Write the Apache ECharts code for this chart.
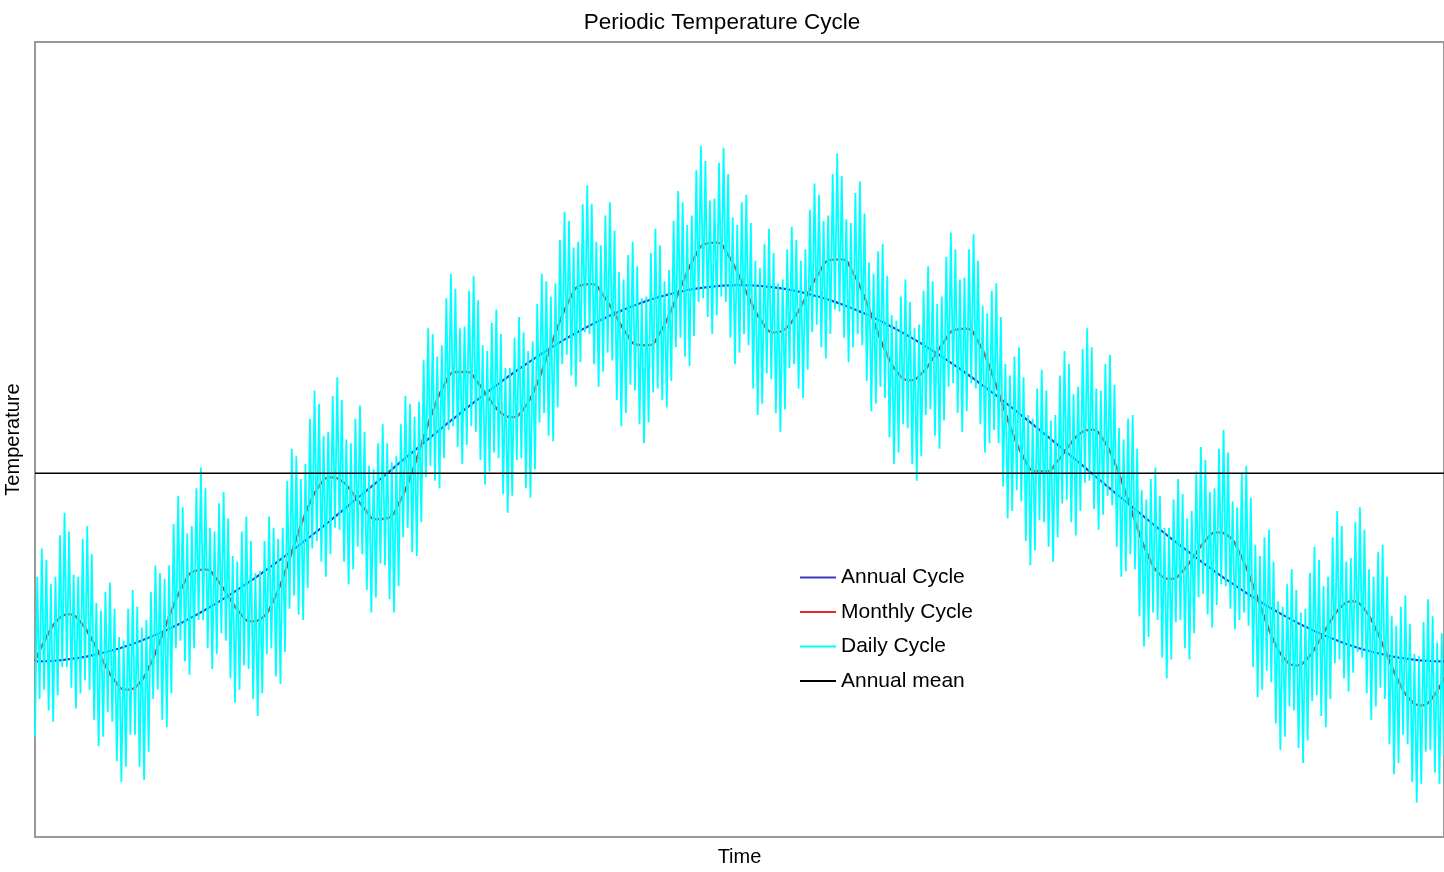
<!DOCTYPE html>
<html>
<head>
<meta charset="utf-8">
<script src="https://cdn.jsdelivr.net/npm/echarts/dist/echarts.min.js"></script>
<style>html,body{margin:0;padding:0;background:#fff}#c{width:1444px;height:872px}</style>
</head>
<body>
<div id="c"></div>
<script>
const TITLE = 'Periodic Temperature Cycle';
const X_NAME = 'Time';
const Y_NAME = 'Temperature';
const YEAR_DAYS = 365;
const ANNUAL_MEAN = 15;
const seriesNames = ['Annual Cycle', 'Monthly Cycle', 'Daily Cycle', 'Annual mean'];

// Annual cycle, sampled evenly across the year
const annualCycle = [5.00,5.01,5.05,5.12,5.20,5.32,5.46,5.62,5.81,6.02,6.26,6.51,6.79,7.09,7.41,7.75,8.11,8.49,8.88,9.29,9.71,10.15,10.60,11.06,11.53,12.01,12.49,12.99,13.49,13.99,14.49,15.00,15.51,16.01,16.51,17.01,17.51,17.99,18.47,18.94,19.40,19.85,20.29,20.71,21.12,21.51,21.89,22.25,22.59,22.91,23.21,23.49,23.74,23.98,24.19,24.38,24.54,24.68,24.80,24.88,24.95,24.99,25.00,24.99,24.95,24.88,24.80,24.68,24.54,24.38,24.19,23.98,23.74,23.49,23.21,22.91,22.59,22.25,21.89,21.51,21.12,20.71,20.29,19.85,19.40,18.94,18.47,17.99,17.51,17.01,16.51,16.01,15.51,15.00,14.49,13.99,13.49,12.99,12.49,12.01,11.53,11.06,10.60,10.15,9.71,9.29,8.88,8.49,8.11,7.75,7.41,7.09,6.79,6.51,6.26,6.02,5.81,5.62,5.46,5.32,5.20,5.12,5.05,5.01,5.00];

// Monthly cycle (annual + monthly), same sampling
const monthlyCycle = [5.02,6.29,7.21,7.51,7.10,6.17,5.00,3.99,3.50,3.72,
4.66,6.09,7.68,9.02,9.80,9.89,9.36,8.47,7.60,7.13,
7.32,8.25,9.75,11.52,13.16,14.32,14.79,14.59,13.91,13.11,
12.56,12.61,13.37,14.76,16.53,18.29,19.67,20.38,20.38,19.79,
18.94,18.22,17.98,18.41,19.51,21.08,22.77,24.17,24.98,25.05,
24.46,23.48,22.47,21.83,21.80,22.47,23.68,25.13,26.43,27.19,
27.26,26.60,25.43,24.11,23.03,22.49,22.66,23.43,24.55,25.65,
26.34,26.37,25.65,24.35,22.76,21.29,20.28,19.94,20.28,21.08,
21.99,22.63,22.68,22.00,20.66,18.93,17.20,15.84,15.12,15.10,
15.65,16.46,17.13,17.31,16.80,15.60,13.93,12.12,10.57,9.62,
9.38,9.80,10.60,11.42,11.86,11.68,10.79,9.35,7.67,6.13,
5.10,4.78,5.17,6.07,7.13,7.94,8.20,7.77,6.72,5.32,
3.94,2.97,2.66,3.09,4.13];

// Daily cycle (annual + monthly + daily), finer sampling
const dailyCycle = [
1.0,9.5,3.0,11.0,3.5,10.4,2.4,9.1,1.8,9.5,
3.2,11.7,4.7,12.9,4.7,11.9,3.6,9.6,2.5,9.5,
3.3,11.5,4.0,12.2,3.5,10.7,1.9,8.1,0.5,7.7,
1.0,8.7,2.3,9.2,1.8,7.8,-0.3,6.3,-1.4,6.1,
-0.6,7.8,1.1,8.8,1.1,7.9,-0.6,6.8,-1.3,7.2,
0.2,8.7,3.0,10.1,3.5,9.7,1.9,9.4,1.5,10.1,
3.3,12.3,5.7,13.8,6.1,13.2,5.0,11.8,4.3,12.2,
5.7,14.2,7.2,15.3,7.2,14.2,5.7,12.1,4.6,11.9,
5.4,13.4,6.5,14.0,6.1,12.6,4.1,10.6,2.8,10.3,
3.5,11.9,4.8,12.7,4.6,11.4,3.0,9.7,2.1,9.8,
3.3,11.4,5.4,12.7,5.7,12.1,4.2,11.5,3.8,12.1,
5.5,14.6,7.8,16.3,8.5,15.9,7.5,14.7,7.2,15.5,
8.9,17.9,11.0,19.4,11.4,18.7,10.3,17.0,9.5,17.2,
10.7,19.1,12.1,20.1,12.0,18.9,10.3,16.8,9.1,16.6,
9.9,17.9,11.1,18.6,10.7,17.2,8.8,15.4,7.6,15.2,
8.4,16.6,10.2,17.6,10.1,16.6,8.3,15.6,7.6,15.9,
9.0,17.6,11.6,19.1,12.1,18.7,10.8,18.0,10.6,18.8,
12.4,21.0,14.8,22.7,15.4,22.4,14.6,21.2,14.2,21.8,
15.8,24.3,17.3,25.6,17.5,24.8,16.4,22.7,15.5,22.8,
16.5,24.7,17.5,25.5,17.2,24.2,15.7,21.8,14.4,21.5,
15.1,23.0,16.1,23.7,15.8,22.4,13.9,20.6,12.9,20.6,
13.8,22.2,15.7,23.3,15.8,22.5,14.2,21.5,13.7,22.0,
15.2,24.0,17.7,25.6,18.2,25.2,17.0,24.4,16.7,25.1,
18.5,27.4,20.8,28.9,21.3,28.4,20.2,27.0,19.6,27.3,
20.9,29.3,22.5,30.3,22.4,29.3,20.8,27.3,19.6,27.1,
20.4,28.7,21.4,29.4,21.0,27.9,18.9,25.7,17.5,25.3,
18.2,26.6,19.7,27.3,19.4,26.0,17.6,24.3,16.6,24.4,
17.7,26.7,19.3,28.0,19.5,27.1,18.9,25.2,18.5,25.8,
19.9,28.4,21.7,30.0,22.2,29.4,21.2,28.2,20.7,28.7,
22.3,31.1,24.1,32.4,24.3,31.6,23.3,29.5,22.4,29.6,
23.4,31.5,24.4,32.3,24.1,30.9,22.2,28.6,20.8,28.2,
21.4,29.4,22.4,29.8,21.8,28.3,19.5,26.3,18.1,25.9,
18.7,27.2,20.3,28.0,20.0,26.7,18.2,25.1,17.2,25.3,
18.4,26.9,20.6,28.1,20.8,27.4,19.5,26.3,19.0,26.9,
20.5,29.0,22.5,30.4,22.9,29.8,21.7,28.4,21.1,28.7,
22.4,30.9,23.7,32.0,23.6,30.8,22.2,28.5,20.9,28.3,
21.7,29.9,22.4,30.5,21.8,28.8,19.9,26.2,18.3,25.6,
18.7,26.8,19.6,27.2,19.0,25.5,16.9,23.4,15.5,23.1,
16.1,24.4,17.6,25.3,17.4,24.1,15.5,22.7,14.6,22.9,
15.9,24.7,18.1,26.0,18.4,25.2,17.0,24.0,16.3,24.4,
17.8,26.5,19.6,27.8,19.8,26.9,18.2,25.3,17.2,25.4,
18.3,26.9,19.8,27.7,19.5,26.3,17.6,23.9,16.1,23.5,
16.6,24.7,17.3,25.1,16.6,23.3,14.3,20.8,12.6,20.2,
13.0,21.2,14.1,21.7,13.5,20.1,11.4,18.1,10.1,17.9,
10.9,19.5,12.5,20.5,12.4,19.4,11.1,17.8,10.3,18.1,
11.6,20.2,13.4,21.5,13.6,20.8,12.4,19.2,11.7,19.6,
13.0,21.6,14.5,22.7,14.6,21.7,13.1,19.5,12.0,19.4,
12.8,20.8,13.8,21.3,13.3,19.7,11.1,17.4,9.5,16.8,
9.8,17.9,10.7,18.1,9.9,16.3,7.4,14.1,5.8,13.6,
6.3,14.7,7.6,15.3,7.2,13.8,5.2,12.1,4.1,12.1,
5.1,13.6,7.1,14.7,7.2,13.9,5.7,12.6,5.1,13.0,
6.5,15.1,8.4,16.4,8.6,15.7,7.5,14.0,6.8,14.2,
8.0,16.3,9.1,17.3,9.0,16.1,7.8,13.5,6.7,13.2,
7.2,15.0,7.6,15.4,6.9,13.7,4.7,11.2,3.1,10.6,
3.5,11.6,4.5,12.0,3.9,10.3,1.7,8.2,0.3,7.9,
1.0,9.1,2.6,9.9,2.4,8.8,0.4,7.6,-0.4,7.8,
0.8,9.7,2.9,11.1,3.2,10.4,2.1,9.0,1.5,9.5,
3.0,11.6,4.9,13.0,5.1,12.2,4.1,10.3,3.4,10.5,
4.4,12.4,5.5,13.2,5.2,12.0,3.3,9.9,1.9,9.5,
2.6,10.8,3.6,11.2,3.0,9.5,0.6,7.4,-1.0,6.9,
-0.4,7.9,1.1,8.5,0.6,7.0,-1.4,5.4,-2.5,5.3,
-1.5,7.1,0.2,8.3,0.3,7.4,-0.9,6.0,-1.5,6.5,
0.0];

function toSeriesData(values) {
  const step = YEAR_DAYS / (values.length - 1);
  return values.map((v, i) => [i * step, v]);
}

const FONT = '"Liberation Sans", Arial, sans-serif';
const chart = echarts.init(document.getElementById('c'), null, {renderer: 'canvas'});
chart.setOption({
  animation: false,
  backgroundColor: '#ffffff',
  title: {
    text: TITLE, left: 'center', top: 6,
    textStyle: {fontFamily: FONT, fontSize: 22.5, fontWeight: 'normal', color: '#000'}
  },
  grid: {left: 35, right: 0, top: 42, bottom: 35, containLabel: false, outerBoundsMode: 'none',
         show: true, borderColor: '#999', borderWidth: 2, backgroundColor: 'transparent'},
  legend: {
    data: seriesNames, orient: 'vertical', left: 800, top: 567, padding: 0,
    itemWidth: 36, itemHeight: 2, itemGap: 13.5, icon: 'rect',
    textStyle: {fontFamily: FONT, fontSize: 21, lineHeight: 21, color: '#000'}
  },
  xAxis: {
    type: 'value', min: 0, max: YEAR_DAYS,
    name: X_NAME, nameLocation: 'middle', nameGap: 10,
    nameTextStyle: {fontFamily: FONT, fontSize: 20, color: '#000'},
    axisLine: {show: false}, axisTick: {show: false}, axisLabel: {show: false}, splitLine: {show: false}
  },
  yAxis: {
    type: 'value', min: -4.33, max: 37.92,
    name: Y_NAME, nameLocation: 'middle', nameGap: 12,
    nameTextStyle: {fontFamily: FONT, fontSize: 20, color: '#000'},
    axisLine: {show: false}, axisTick: {show: false}, axisLabel: {show: false}, splitLine: {show: false}
  },
  series: [
    {name: seriesNames[0], type: 'line', data: toSeriesData(annualCycle), showSymbol: false, symbol: 'none', smooth: true,
     lineStyle: {color: '#4038c8', width: 2.2}, itemStyle: {color: '#4038c8'}},
    {name: seriesNames[1], type: 'line', data: toSeriesData(monthlyCycle), showSymbol: false, symbol: 'none', smooth: true,
     lineStyle: {color: '#e02828', width: 2.4}, itemStyle: {color: '#e02828'}},
    {name: seriesNames[2], type: 'line', data: toSeriesData(dailyCycle), showSymbol: false, symbol: 'none',
     lineStyle: {color: '#00ffff', width: 1.8}, itemStyle: {color: '#00ffff'}},
    {name: seriesNames[3], type: 'line', data: [[0, ANNUAL_MEAN], [YEAR_DAYS, ANNUAL_MEAN]], showSymbol: false, symbol: 'none',
     lineStyle: {color: '#000000', width: 1.6}, itemStyle: {color: '#000000'}}
  ]
});
</script>
</body>
</html>
